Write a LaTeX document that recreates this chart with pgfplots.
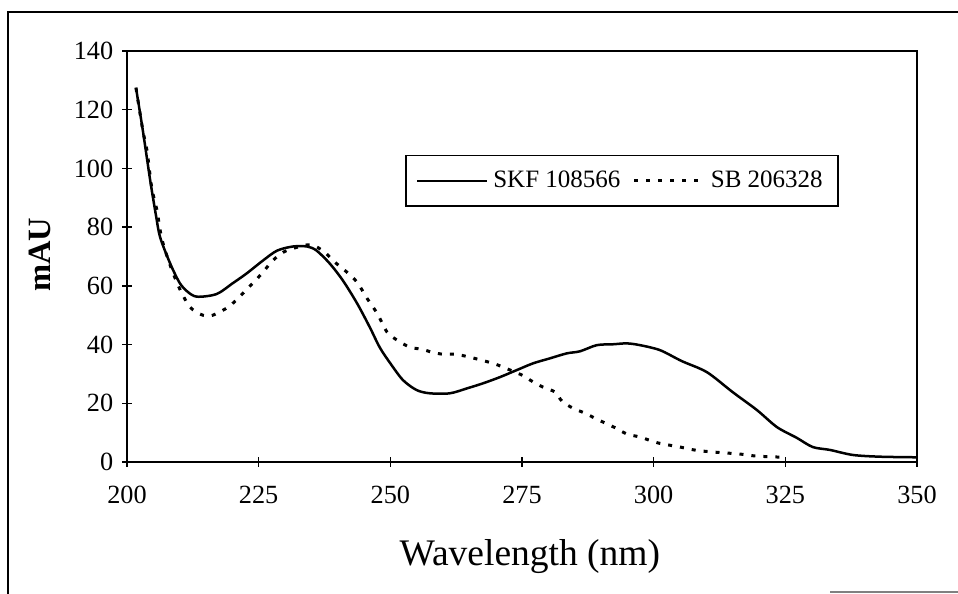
\documentclass[border=0pt]{standalone}
\usepackage{pgfplots}
\pgfplotsset{compat=1.18}
\usepackage{fontspec}
\setmainfont{Liberation Serif}

\begin{document}
\begin{tikzpicture}
% page = 958 x 594 px at 0.4pt per px
\path[use as bounding box] (0,0) rectangle (383.2pt,237.6pt);
% scanned outer frame
\draw[line width=0.6pt] (3.2pt,0pt) -- (3.2pt,232.8pt) -- (383.2pt,232.8pt);
\draw[line width=0.5pt, gray] (332pt,0.8pt) -- (383.2pt,0.8pt);

\begin{axis}[
    at={(50.8pt,52.8pt)}, anchor=south west,
    scale only axis,
    width=316pt, height=164.4pt,
    xmin=200, xmax=350,
    ymin=0, ymax=140,
    xtick={200,225,250,275,300,325,350},
    ytick={0,20,40,60,80,100,120,140},
    tick pos=left,
    tick align=center,
    major tick length=4pt,
    axis line style={line width=0.8pt},
    every tick/.style={black, line width=0.6pt},
    /pgf/number format/assume math mode=true,
    ticklabel style={font=\fontsize{10.5}{12}\selectfont},
    xticklabel style={yshift=-4pt},
    xlabel={Wavelength (nm)},
    xlabel style={at={(axis description cs:0.51,-0.231)}, anchor=center,
        font=\fontsize{15}{17}\selectfont},
    ylabel={mAU},
    ylabel style={at={(axis description cs:-0.110,0.504)}, anchor=center,
        font=\fontsize{13}{15}\selectfont\bfseries},
    legend columns=2,
    legend style={at={(rel axis cs:0.352,0.747)}, anchor=north west,
        draw=black, line width=0.6pt, font=\fontsize{10}{12}\selectfont,
        inner xsep=4pt, inner ysep=4pt,
        /tikz/every even column/.append style={column sep=3pt}},
    legend image code/.code={\draw[#1] (0pt,0pt) -- (28pt,0pt);},
]

% SKF 108566
\addplot[black, line width=1pt, smooth] coordinates {
(201.7,127.5) (203,113) (204.4,96) (205.5,84) (206.3,76.5) (208.2,67.6)
(210,61) (211.5,58) (213.3,56.3) (217,57.2) (220,60.8) (222.7,64.2)
(225.8,68.6) (228.5,72) (231.5,73.4) (234.2,73.4) (236,72) (238.5,67.6)
(241,61.8) (243.7,54) (246.1,45.9) (248,39) (250,33.6) (252.4,27.9)
(255,24.5) (257.5,23.4) (261.3,23.4) (264.6,25.1) (267.6,26.8) (270.8,28.9)
(274,31.3) (277.1,33.6) (280.3,35.3) (283.5,37) (286,37.7) (289.2,39.8)
(292.3,40.1) (294.9,40.4) (297.4,39.8) (301.2,38.1) (305.3,34.4) (310.1,30.6)
(315,23.8) (319.6,17.7) (323.4,11.9) (327.2,8.2) (330.2,5.1) (333.5,4.1)
(337.8,2.4) (343,1.8) (350,1.6)
};
\addlegendentry{SKF 108566}

% SB 206328
\addplot[black, line width=1.2pt, dash pattern=on 1.6pt off 3.2pt, smooth] coordinates {
(201.7,127.5) (203,113) (203.8,106) (204.7,93.4) (205.7,85.6) (206.6,76.1)
(208.2,67) (210,59) (212,52.7) (214.4,50) (216.3,50) (219.6,53.3)
(223.4,60) (225.8,64.6) (227.5,68.3) (229.6,71.4) (232,73) (235,74)
(237.6,71.4) (239.1,68.6) (241.8,64.6) (243.7,61.2) (245.6,55.7) (247.5,50.6)
(249.4,44.2) (251.3,41.5) (253.7,39.1) (256,38.4) (257.9,37.4) (260,36.7)
(262.3,36.7) (265.1,35.7) (269.5,33.6) (271.4,32.3) (275,29.6) (276.9,27.5)
(279,25.5) (281.3,23.8) (282.6,20.7) (284.7,18.3) (287,16.6) (289.2,14.6)
(293,11.4) (294.9,9.5) (297.4,8.5) (300.8,6.5) (305,5.1) (308,4)
(311.3,3.4) (316.4,2.7) (319.6,2) (325,1.6)
};
\addlegendentry{SB 206328}

\end{axis}
\end{tikzpicture}
\end{document}
